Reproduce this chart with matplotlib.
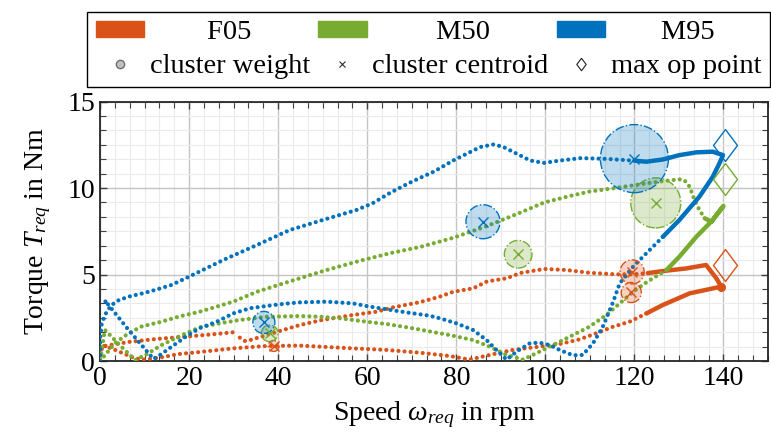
import numpy as np
import matplotlib
matplotlib.use("Agg")
import matplotlib.pyplot as plt
from matplotlib.ticker import MultipleLocator, AutoMinorLocator
from matplotlib.patches import Patch
from matplotlib.lines import Line2D

plt.rcParams['font.family'] = 'serif'
plt.rcParams['font.serif'] = ['Liberation Serif', 'DejaVu Serif']
plt.rcParams['mathtext.fontset'] = 'custom'
plt.rcParams['mathtext.rm'] = 'Liberation Serif'
plt.rcParams['mathtext.it'] = 'Liberation Serif:italic'
plt.rcParams['font.size'] = 20

subjects = ['F05', 'M50', 'M95']
colors = ['#D95319', '#77AC30', '#0072BD']

# ---- operating point traces (speed in rpm, torque in Nm) ----
# "dots" = sparse samples, "dense" = segments where samples pile up into a solid band
f05_dots_a = [(0, 0), (0.5, 0.85), (3, 0.95), (6.4, 1.1), (10, 1.2), (13.8, 1.3), (18, 1.38),
              (22, 1.47), (26, 1.56), (29.9, 1.66)]
f05_dots_b = [(31.4, 1.35), (32.5, 1.16), (33.7, 1.21), (37.4, 1.5), (41.1, 1.79), (44.9, 2.08),
              (49.5, 2.35), (56.8, 2.66), (62.1, 2.85), (65.8, 3.1), (71.8, 3.4), (76.3, 3.72),
              (79.3, 4.0), (83.8, 4.2), (86.9, 4.6), (91.3, 4.78), (94.4, 5.09), (96.5, 5.18),
              (99.8, 5.32), (104.7, 5.26), (109.9, 5.1), (115.9, 5.01), (119.7, 5.01), (123, 5.08)]
f05_dense = [(123, 5.08), (126.4, 5.2), (131.6, 5.35), (136.1, 5.55), (138.4, 4.78), (139.5, 4.3),
             (132.4, 3.91), (126.4, 3.24), (122.7, 2.75)]
f05_dots_c = [(122.7, 2.75), (118.9, 2.27), (115.2, 1.98), (111.4, 1.6), (107.7, 1.25), (103.2, 0.98),
              (98.7, 0.83), (92.7, 0.64), (87.5, 0.35), (83, 0.08), (78.5, 0.29), (71.8, 0.48),
              (64.3, 0.64), (56.8, 0.73), (49.4, 0.83), (44.9, 0.89), (37.4, 0.87), (29.9, 0.73),
              (22.4, 0.52), (17.6, 0.4), (13.8, 0.21), (10, 0.08), (7.9, 0.15), (5.6, 0.4),
              (3.4, 0.64), (1.1, 0.87), (0.5, 0.85)]

m50_dots_a = [(0, 0), (3.4, 1.04), (6.4, 1.6), (9.4, 2.0), (13.8, 2.27), (17.6, 2.56), (22.4, 2.85),
              (29.9, 3.43), (35.2, 4.0), (42.6, 4.6), (50.1, 5.2), (57.6, 5.74), (65.1, 6.23),
              (72, 6.6), (79.3, 7.12), (86.9, 7.8), (94.4, 8.58), (99.7, 9.16), (105.7, 9.55),
              (110, 9.8), (115.2, 9.98), (122.7, 10.27), (127.2, 10.42), (130.1, 10.5),
              (131.2, 10.46), (132.4, 10.08), (133.5, 9.3), (134.6, 8.73), (135.8, 8.25)]
m50_dense = [(135.8, 8.25), (137.3, 8.05), (138.4, 8.44), (140, 8.96), (137.6, 8.15), (133.9, 7.18),
             (130.1, 6.03), (127.2, 5.26)]
m50_dots_b = [(127.2, 5.26), (123, 4.6), (119.7, 4.0), (116.7, 3.33), (113.7, 2.66), (109.9, 1.98),
              (106.2, 1.5), (102.5, 1.02), (98.7, 0.54), (95, 0.08), (91.3, 0.35), (87.5, 0.83),
              (83.8, 1.21), (78.5, 1.5), (75.5, 1.64), (70.3, 1.89), (64.3, 2.14), (59.8, 2.27),
              (53.8, 2.47), (49.4, 2.56), (44.9, 2.6), (37.4, 2.56), (31.4, 2.37), (26.9, 2.18),
              (22.4, 1.95), (17.6, 1.4), (13.8, 0.92), (10.8, 0.44), (7.9, 0.05), (4.5, 0.9),
              (1.1, 1.8), (0, 0)]

m95_dots_a = [(0, 0), (0, 1.2), (0.4, 2.2), (1.5, 2.85), (2.6, 3.24), (4.1, 3.5), (6.4, 3.72),
              (9.4, 3.9), (12.3, 4.1), (16.1, 4.4), (20.2, 4.9), (27.7, 5.84), (35.2, 6.7),
              (42.6, 7.57), (50, 8.15), (57.6, 8.73), (61.3, 9.13), (65, 9.7), (69.5, 10.3),
              (72, 10.6), (75, 10.95), (79.3, 11.59), (85.4, 12.37), (88.4, 12.52), (90.6, 12.37),
              (93.6, 11.98), (96.6, 11.59), (99.6, 11.45), (103.4, 11.59), (108, 11.73),
              (114, 11.68), (120, 11.58)]
m95_dense = [(120, 11.58), (122.7, 11.52), (126.4, 11.65), (130.1, 11.9), (133.9, 12.06),
             (137.6, 12.1), (139.9, 11.9), (139.1, 11.43), (137.6, 10.65), (134.6, 9.5),
             (130.1, 8.15), (126.4, 7.18)]
m95_dots_b = [(126.4, 7.18), (122.7, 6.23), (119.7, 5.45), (116.7, 4.49), (115.2, 3.4), (112.9, 1.98),
              (110.7, 1.02), (108.4, 0.35), (106.2, 0.33), (103.2, 0.64), (101, 0.92), (98.7, 1.06),
              (96.5, 1.02), (93.5, 0.54), (91.3, 0.08), (89, 0.64), (86.8, 1.21), (83.8, 1.79),
              (80, 2.18), (76.3, 2.47), (74, 2.62), (68.8, 2.81), (64.3, 2.99), (59.8, 3.18),
              (56.8, 3.33), (50.9, 3.43), (44.9, 3.39), (41.1, 3.3), (37.4, 3.18), (33.7, 3.05),
              (29.9, 2.75), (26.2, 2.27), (22.4, 1.9), (19.8, 1.5), (16.1, 0.83), (13.5, 0.35),
              (12, 0.12), (6.4, 1.8), (1.1, 3.5), (1.5, 3.3)]

dotted_segs = [[f05_dots_a, f05_dots_b, f05_dots_c],
               [m50_dots_a, m50_dots_b],
               [m95_dots_a, m95_dots_b]]
dense_segs = [f05_dense, m50_dense, m95_dense]

# ---- clusters: centroid speed, centroid torque, relative weight ----
cl_speed = [[119.5, 119.3, 39.0], [124.8, 93.9, 38.1], [120.0, 86.0, 36.8]]
cl_torque = [[5.15, 3.96, 0.87], [9.14, 6.17, 1.6], [11.7, 8.05, 2.23]]
cl_weight = [[0.125, 0.087, 0.026], [0.54, 0.165, 0.06], [1.0, 0.25, 0.105]]

# ---- maximum operating points ----
max_speed = [140.4, 140.4, 140.4]
max_torque = [5.55, 10.5, 12.5]

diamond = [(0, 1), (0.75, 0), (0, -1), (-0.75, 0), (0, 1)]

fig = plt.figure(figsize=(7.71, 4.34), dpi=100)
ax = fig.add_axes([0.1297, 0.1682, 0.8664, 0.5979])

for i in range(3):
    c = colors[i]
    for seg in dotted_segs[i]:
        x, y = np.array(seg).T
        ax.plot(x, y, color=c, lw=3.0, ls=(0, (0.01, 1.45)), dash_capstyle='round', zorder=3)
    x, y = np.array(dense_segs[i]).T
    ax.plot(x, y, color=c, lw=3.2, solid_capstyle='round', solid_joinstyle='round', zorder=3)

# end blob of the F05 trace
ax.plot(f05_dense[5][0], f05_dense[5][1], 'o', color=colors[0], ms=5.5, zorder=3)

for i in range(3):
    c = colors[i]
    s = np.array(cl_weight[i]) * 2400
    ax.scatter(cl_speed[i], cl_torque[i], s=s, facecolor=matplotlib.colors.to_rgba(c, 0.25),
               edgecolor=c, linewidths=1.0, linestyles='-.', zorder=4)
    ax.plot(cl_speed[i], cl_torque[i], 'x', color=c, ms=7, mew=1.0, ls='none', zorder=5)
    ax.plot(max_speed[i], max_torque[i], marker=diamond, ms=23, mfc='none', mec=c, mew=1.0,
            ls='none', zorder=5)

ax.set_xlim(0, 150)
ax.set_ylim(0, 15)
ax.xaxis.set_major_locator(MultipleLocator(20))
ax.yaxis.set_major_locator(MultipleLocator(5))
ax.xaxis.set_minor_locator(AutoMinorLocator(6))
ax.yaxis.set_minor_locator(AutoMinorLocator(6))
ax.set_xticks(np.arange(0, 141, 20))
ax.set_xlim(0, 150)
ax.grid(which='major', color='#c4c4c4', lw=1.0)
ax.grid(which='minor', color='#ebebeb', lw=0.8)
ax.set_axisbelow(True)
ax.tick_params(which='both', direction='in', top=True, right=True, color='#404040')
ax.tick_params(which='major', length=5, width=1.0)
ax.tick_params(which='minor', length=4, width=0.8)
for sp in ax.spines.values():
    sp.set_color('#262626')
    sp.set_linewidth(1.3)

ax.set_xlabel(r'Speed $\omega_{req}$ in rpm', labelpad=6)
ax.set_ylabel(r'Torque $T_{req}$ in Nm', labelpad=10)

# legend: colour patches in row 1, marker meaning in row 2
handles = [Patch(color=colors[0]),
           Line2D([], [], ls='none', marker='o', ms=6, mfc='#c0c0c0', mec='#707070'),
           Patch(color=colors[1]),
           Line2D([], [], ls='none', marker='x', ms=5, mew=0.8, color='#303030'),
           Patch(color=colors[2]),
           Line2D([], [], ls='none', marker=diamond, ms=9, mfc='none', mec='#202020', mew=0.8)]
labels = ['        ' + subjects[0], 'cluster weight',
          '         ' + subjects[1], 'cluster centroid',
          '       ' + subjects[2], 'max op point']
leg = fig.legend(handles, labels, ncol=3, loc='center',
                 bbox_to_anchor=(0.1128, 0.7995, 0.8859, 0.1728), mode='expand',
                 borderaxespad=0, fontsize=20.5, handlelength=1.7, handleheight=0.52,
                 handletextpad=0.2, borderpad=0.3, labelspacing=0.3, columnspacing=0.3,
                 fancybox=False, framealpha=1, edgecolor='black')
leg.get_frame().set_linewidth(1.0)

fig.savefig('out.png', dpi=100)
